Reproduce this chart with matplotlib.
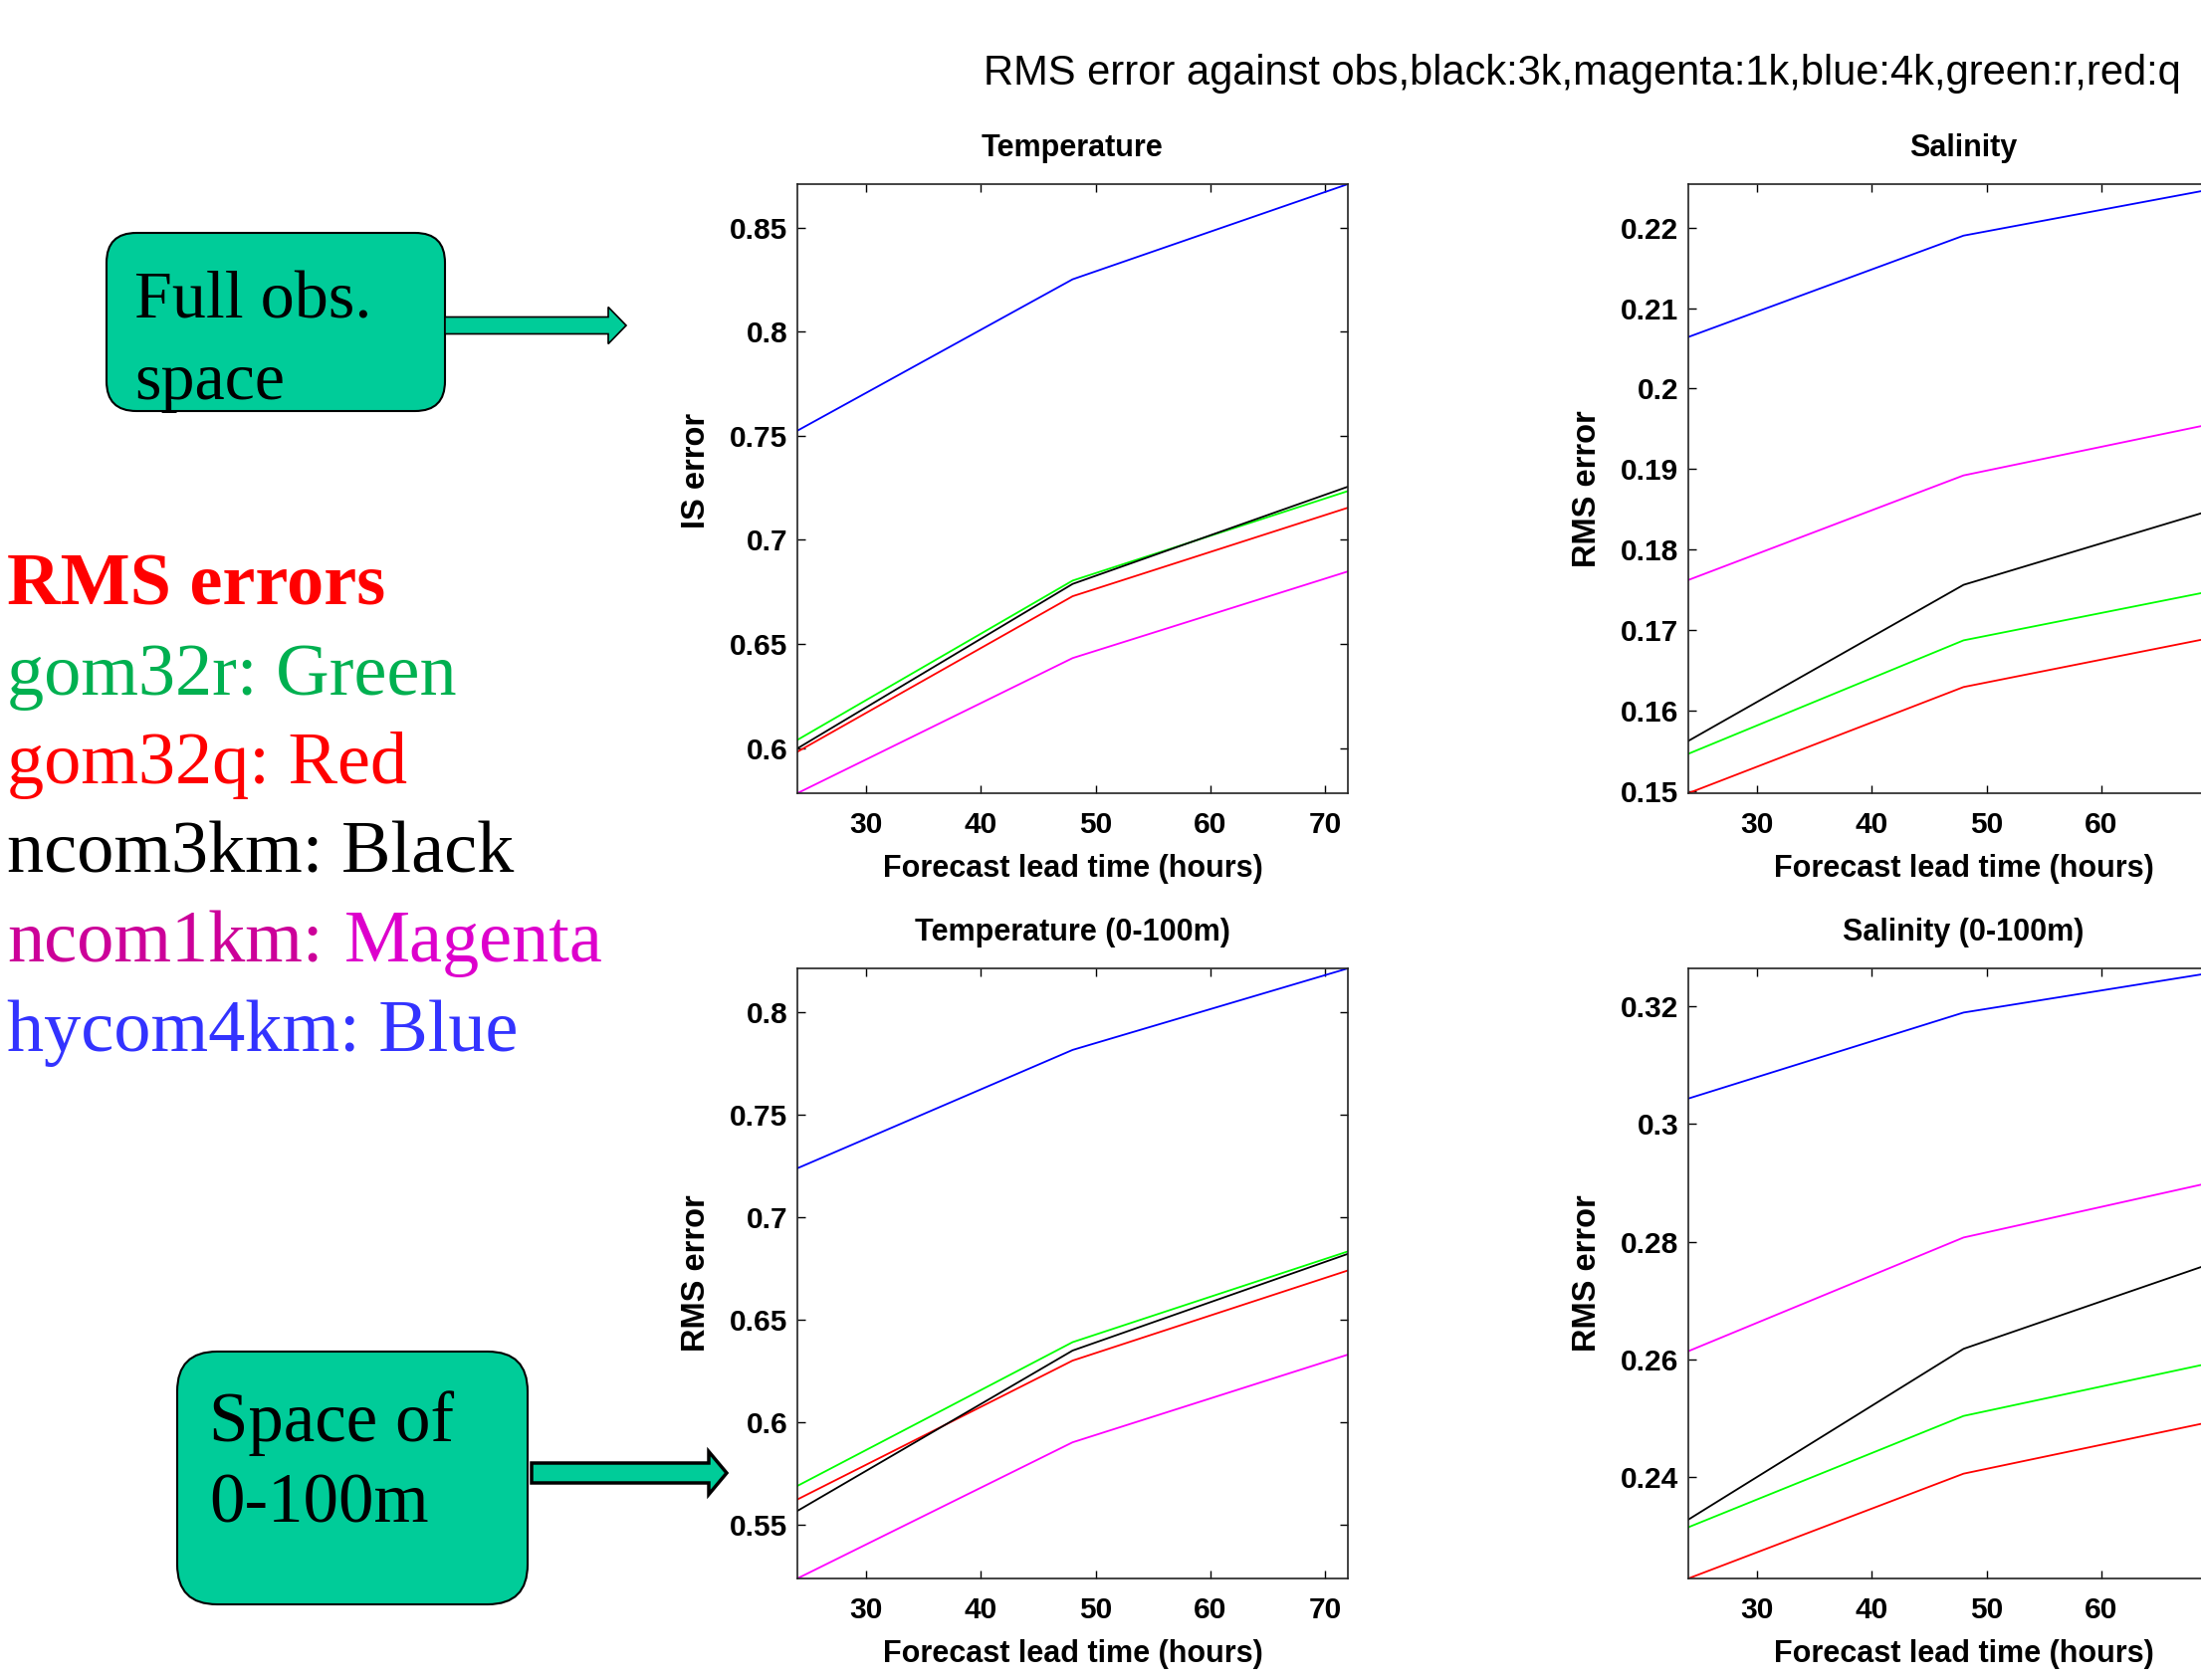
import matplotlib.pyplot as plt
from matplotlib.patches import FancyBboxPatch, FancyArrow

plt.rcParams['font.family'] = ['Liberation Sans', 'DejaVu Sans']

# forecast lead times (hours)
lead_hours = [24, 48, 72]

# RMS error, full obs. space
temp_green = [0.6039, 0.6804, 0.7234]
temp_red = [0.5982, 0.6729, 0.7154]
temp_black = [0.5998, 0.6788, 0.7255]
temp_magenta = [0.5783, 0.6432, 0.6848]
temp_blue = [0.7524, 0.8251, 0.8708]

sal_green = [0.1546, 0.1687, 0.1755]
sal_red = [0.1497, 0.1629, 0.1697]
sal_black = [0.1562, 0.1756, 0.1859]
sal_magenta = [0.1762, 0.1892, 0.1963]
sal_blue = [0.2064, 0.2190, 0.2254]

# RMS error, 0-100m
temp100_green = [0.5688, 0.6390, 0.6833]
temp100_red = [0.5622, 0.6300, 0.6740]
temp100_black = [0.5566, 0.6349, 0.6821]
temp100_magenta = [0.5236, 0.5901, 0.6329]
temp100_blue = [0.7239, 0.7817, 0.8215]

sal100_green = [0.2315, 0.2504, 0.2604]
sal100_red = [0.2228, 0.2406, 0.2504]
sal100_black = [0.2328, 0.2618, 0.2779]
sal100_magenta = [0.2614, 0.2807, 0.2911]
sal100_blue = [0.3043, 0.3189, 0.3264]

xtick_vals = [30, 40, 50, 60, 70]
temp_ticks = [0.6, 0.65, 0.7, 0.75, 0.8, 0.85]
sal_ticks = [0.15, 0.16, 0.17, 0.18, 0.19, 0.2, 0.21, 0.22]
temp100_ticks = [0.55, 0.6, 0.65, 0.7, 0.75, 0.8]
sal100_ticks = [0.24, 0.26, 0.28, 0.3, 0.32]

legend_lines = ['gom32r: Green', 'gom32q: Red', 'ncom3km: Black']

W, H = 2211, 1688
fig = plt.figure(figsize=(W / 100, H / 100), dpi=100)


def rect(x0, y0, x1, y1):
    # pixel box (from top-left) -> figure fraction rect
    return [x0 / W, 1 - y1 / H, (x1 - x0) / W, (y1 - y0) / H]


def inch(x, y):
    return x / 100, (H - y) / 100


def draw_panel(pos, series, ticks, title, ylabel, ylab_y=0.5):
    ax = fig.add_axes(pos)
    for vals, c in series:
        ax.plot(lead_hours, vals, color=c, lw=1.3)
    allv = [v for vals, c in series for v in vals]
    ax.set_xlim(24, 72)
    ax.set_ylim(min(allv), max(allv))
    ax.set_xticks(xtick_vals)
    ax.set_xticklabels([str(v) for v in xtick_vals])
    ax.set_yticks(ticks)
    ax.set_yticklabels(['%g' % t for t in ticks])
    ax.tick_params(direction='in', top=True, right=True, length=6, width=1,
                   labelsize=21.5)
    ax.tick_params(axis='x', pad=13)
    ax.tick_params(axis='y', pad=7)
    for lab in ax.get_xticklabels() + ax.get_yticklabels():
        lab.set_fontweight('bold')
    for sp in ax.spines.values():
        sp.set_linewidth(1.2)
        sp.set_color('#222222')
    ax.set_title(title, fontsize=22, fontweight='bold', pad=20)
    ax.set_xlabel('Forecast lead time (hours)', fontsize=22, fontweight='bold',
                  labelpad=11)
    ax.set_ylabel(ylabel, fontsize=23.5, fontweight='bold')
    ax.yaxis.set_label_coords(-0.156, ylab_y)
    return ax


cols = ['#00ff00', '#ff0000', '#000000', '#ff00ff', '#0000ff']

draw_panel(rect(801, 185, 1354, 797),
           list(zip([temp_green, temp_red, temp_black, temp_magenta, temp_blue], cols)),
           temp_ticks, 'Temperature', 'IS error', ylab_y=0.53)
draw_panel(rect(1696, 185, 2249, 797),
           list(zip([sal_green, sal_red, sal_black, sal_magenta, sal_blue], cols)),
           sal_ticks, 'Salinity', 'RMS error')
draw_panel(rect(801, 973, 1354, 1586),
           list(zip([temp100_green, temp100_red, temp100_black, temp100_magenta, temp100_blue], cols)),
           temp100_ticks, 'Temperature (0-100m)', 'RMS error')
draw_panel(rect(1696, 973, 2249, 1586),
           list(zip([sal100_green, sal100_red, sal100_black, sal100_magenta, sal100_blue], cols)),
           sal100_ticks, 'Salinity (0-100m)', 'RMS error')

fig.text(1589 / W, 1 - 74 / H,
         'RMS error against obs,black:3k,magenta:1k,blue:4k,green:r,red:q',
         ha='center', va='center', fontsize=30)

# annotation boxes and arrows
teal = '#00cc99'
serif = ['Liberation Serif', 'DejaVu Serif']
it = fig.dpi_scale_trans

x0, y0 = inch(107, 413)
box1 = FancyBboxPatch((x0, y0), 3.40, 1.79, boxstyle='round,pad=0,rounding_size=0.3',
                      fc=teal, ec='black', lw=1.5, transform=it)
fig.add_artist(box1)
x0, y0 = inch(178, 1612)
box2 = FancyBboxPatch((x0, y0), 3.52, 2.54, boxstyle='round,pad=0,rounding_size=0.4',
                      fc=teal, ec='black', lw=1.5, transform=it)
fig.add_artist(box2)

ax0, ay0 = inch(447, 327)
fig.add_artist(FancyArrow(ax0, ay0, 1.82, 0, width=0.17, head_width=0.37,
                          head_length=0.18, length_includes_head=True,
                          fc=teal, ec='black', lw=1.2, transform=it))
ax0, ay0 = inch(534, 1480)
fig.add_artist(FancyArrow(ax0, ay0, 1.96, 0, width=0.20, head_width=0.43,
                          head_length=0.18, length_includes_head=True,
                          fc=teal, ec='black', lw=2.5, transform=it))

fig.text(135 / W, 1 - 319 / H, 'Full obs.', fontsize=49, family=serif, va='baseline')
fig.text(135 / W, 1 - 401 / H, 'space', fontsize=49, family=serif, va='baseline')
fig.text(210 / W, 1 - 1448 / H, 'Space of', fontsize=51, family=serif, va='baseline')
fig.text(210 / W, 1 - 1530 / H, '0-100m', fontsize=51, family=serif, va='baseline')

# model colour key
lx = 7 / W
base = 608
step = 89.6
fs = 53.5
fig.text(lx, 1 - base / H, 'RMS errors', fontsize=fs, family=serif,
         fontweight='bold', color='#ff0000', va='baseline')
for i, (txt, c) in enumerate(zip(legend_lines, ['#00b050', '#ff0000', '#000000'])):
    fig.text(lx, 1 - (base + step * (i + 1)) / H, txt, fontsize=fs, family=serif,
             color=c, va='baseline')
fig.text(lx, 1 - (base + step * 4) / H, 'ncom1km:', fontsize=fs, family=serif,
         color='#cc0099', va='baseline')
fig.text(346 / W, 1 - (base + step * 4) / H, 'Magenta', fontsize=fs, family=serif,
         color='#dd00cc', va='baseline')
fig.text(lx, 1 - (base + step * 5) / H, 'hycom4km: Blue', fontsize=fs, family=serif,
         color='#3333ff', va='baseline')

fig.savefig('out.png', dpi=100)
